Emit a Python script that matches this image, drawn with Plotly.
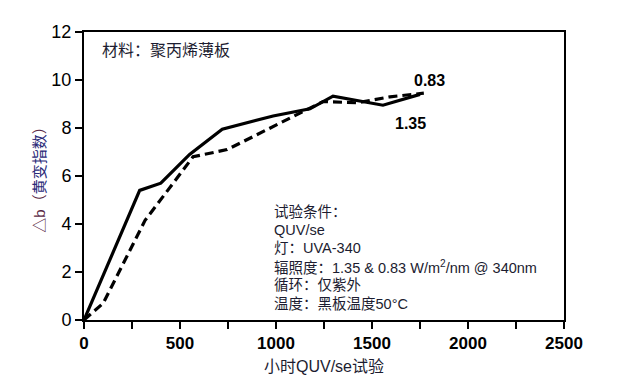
import plotly.graph_objects as go

hours_135 = [0, 290, 400, 550, 720, 985, 1177, 1297, 1557, 1750]
db_135 = [0, 5.4, 5.7, 6.9, 7.95, 8.5, 8.8, 9.33, 8.95, 9.4]
hours_083 = [0, 100, 318, 568, 745, 1036, 1177, 1245, 1422, 1594, 1770]
db_083 = [0, 0.7, 4.15, 6.8, 7.1, 8.25, 8.83, 9.1, 9.05, 9.3, 9.45]

cond_lines = ["试验条件：", "QUV/se", "灯：UVA-340",
              "辐照度：1.35 & 0.83 W/m<sup>2</sup>/nm @ 340nm",
              "循环：仅紫外", "温度：黑板温度50°C"]

FONT = "Liberation Sans, Arial, Noto Sans CJK SC"
TXT = "#1c1c30"

fig = go.Figure()
fig.add_trace(go.Scatter(x=hours_135, y=db_135, mode="lines",
                         line=dict(color="black", width=3.2), showlegend=False))
fig.add_trace(go.Scatter(x=hours_083, y=db_083, mode="lines",
                         line=dict(color="black", width=3.2, dash="9px,5px"), showlegend=False))

fig.add_annotation(x=0.033, y=0.9375, xref="paper", yref="paper", xanchor="left", yanchor="middle",
                   text="材料：聚丙烯薄板", showarrow=False, font=dict(size=16, color=TXT))
fig.add_annotation(x=1802, y=10.0, text="<b>0.83</b>", showarrow=False,
                   font=dict(size=16, color="black"))
fig.add_annotation(x=1698, y=8.2, text="<b>1.35</b>", showarrow=False,
                   font=dict(size=16, color="black"))
for i, t in enumerate(cond_lines):
    fig.add_annotation(x=979, y=4.5 - i * 0.76, xanchor="left", yanchor="middle",
                       text=t, showarrow=False, font=dict(size=14.5, color=TXT))

fig.update_layout(
    width=622, height=388,
    margin=dict(l=76, r=66, t=24, b=76),
    paper_bgcolor="white", plot_bgcolor="white",
    font=dict(family=FONT, color="black"),
    xaxis=dict(range=[0, 2500], dtick=500, tick0=0, showgrid=False, zeroline=False,
               showline=True, linecolor="black", linewidth=2, mirror=True,
               ticks="outside", ticklen=7, tickwidth=2, tickcolor="black",
               minor=dict(dtick=250, ticks="outside", ticklen=7, tickwidth=2, tickcolor="black"),
               tickfont=dict(size=17, color="black", weight="bold"),
               title=dict(text="小时QUV/se试验", font=dict(size=16, color=TXT), standoff=8)),
    yaxis=dict(range=[0, 12], dtick=2, showgrid=False, zeroline=False,
               showline=True, linecolor="black", linewidth=2, mirror=True,
               ticks="outside", ticklen=7, tickwidth=2, tickcolor="black",
               tickfont=dict(size=18, color="black"),
               title=dict(text="<span style='color:#5a2845'>△b（</span><span style='color:#2a2a78'>黄变指数</span><span style='color:#5a2845'>）</span>",
                          font=dict(size=15), standoff=2)),
)

fig.write_html("out.html")
